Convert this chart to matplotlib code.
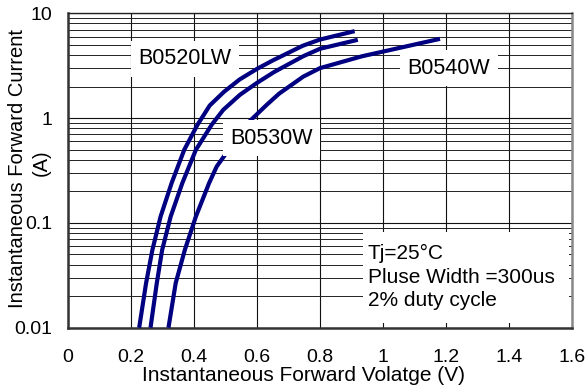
import numpy as np
import matplotlib
matplotlib.use('Agg')
import matplotlib.pyplot as plt
from matplotlib.patches import Rectangle

plt.rcParams['font.family'] = ['Liberation Sans', 'DejaVu Sans']

# forward voltage (V) / current (A)
v_0520 = [0.226, 0.248, 0.268, 0.294, 0.329, 0.369, 0.411, 0.450, 0.495, 0.545, 0.600, 0.650, 0.745, 0.800, 0.910]
i_0520 = [0.01, 0.0267, 0.0553, 0.115, 0.240, 0.498, 0.863, 1.32, 1.78, 2.34, 2.95, 3.55, 4.9, 5.62, 6.76]

v_0530 = [0.262, 0.282, 0.299, 0.326, 0.363, 0.406, 0.456, 0.493, 0.546, 0.599, 0.654, 0.747, 0.800, 0.920]
i_0530 = [0.01, 0.0267, 0.0553, 0.115, 0.240, 0.498, 0.863, 1.20, 1.67, 2.16, 2.75, 3.9, 4.59, 5.59]

v_0540 = [0.319, 0.342, 0.371, 0.406, 0.448, 0.472, 0.571, 0.631, 0.670, 0.747, 0.800, 0.933, 1.001, 1.181]
i_0540 = [0.01, 0.0267, 0.0553, 0.115, 0.240, 0.345, 0.90, 1.34, 1.71, 2.49, 3.0, 3.89, 4.32, 5.71]

x_ticks = [0, 0.2, 0.4, 0.6, 0.8, 1.0, 1.2, 1.4, 1.6]
x_labels = ['0', '0.2', '0.4', '0.6', '0.8', '1', '1.2', '1.4', '1.6']
y_ticks = [0.01, 0.1, 1, 10]
y_labels = ['0.01', '0.1', '1', '10']

fig = plt.figure(figsize=(5.88, 3.92), dpi=100)
ax = fig.add_axes([0.1156, 0.164, 0.8572, 0.802])

navy = '#000080'
ax.plot(v_0520, i_0520, color=navy, lw=3, solid_capstyle='butt', solid_joinstyle='round', zorder=3)
ax.plot(v_0530, i_0530, color=navy, lw=3, solid_capstyle='butt', solid_joinstyle='round', zorder=3)
ax.plot(v_0540, i_0540, color=navy, lw=3, solid_capstyle='butt', solid_joinstyle='round', zorder=3)

ax.set_yscale('log')
ax.set_xlim(0, 1.6)
ax.set_ylim(0.01, 10)
ax.set_xticks(x_ticks)
ax.set_xticklabels(x_labels)
ax.set_yticks(y_ticks)
ax.set_yticklabels(y_labels)
ax.yaxis.set_minor_locator(matplotlib.ticker.LogLocator(base=10, subs=np.arange(2, 10)))
ax.yaxis.set_minor_formatter(matplotlib.ticker.NullFormatter())
ax.tick_params(axis='both', which='both', length=0, labelsize=14)
ax.tick_params(axis='x', pad=15)
ax.tick_params(axis='y', pad=11)

ax.grid(True, which='major', color='#111111', lw=0.8)
ax.grid(True, which='minor', axis='y', color='#222222', lw=0.7)
ax.set_axisbelow(True)

for side in ['left', 'bottom']:
    ax.spines[side].set_linewidth(1.8)
    ax.spines[side].set_color('#333333')
ax.spines['right'].set_linewidth(1.8)
ax.spines['right'].set_color('#888888')
ax.spines['top'].set_linewidth(1.0)
ax.spines['top'].set_color('#222222')

ax.set_xlabel('Instantaneous Forward Volatge (V)', fontsize=15)
ax.xaxis.set_label_coords(0.468, -0.122)
ax.xaxis.label.set_va('top')

ax.set_ylabel('Instantaneous Forward Current', fontsize=14.5)
ax.yaxis.set_label_coords(-0.101, 0.505)
ax.yaxis.label.set_va('center')
ax.text(-0.0536, 0.524, '(A)', fontsize=14.5, rotation=90, ha='center', va='center',
        transform=ax.transAxes)

box = dict(boxstyle='square,pad=0.35', fc='white', ec='none')
ax.text(0.371, 3.68, 'B0520LW', fontsize=15.5, ha='center', va='center', bbox=box, zorder=5)
ax.text(0.646, 0.641, 'B0530W', fontsize=15.5, ha='center', va='center', bbox=box, zorder=5)
ax.text(1.2095, 2.99, 'B0540W', fontsize=15.5, ha='center', va='center', bbox=box, zorder=5)

# white panel behind the test conditions
ax.add_patch(Rectangle((0.585, 0.015), 0.409, 0.289, transform=ax.transAxes,
                       fc='white', ec='none', zorder=4))
ax.text(0.595, 0.16, 'Tj=25°C\nPluse Width =300us\n2% duty cycle', fontsize=15,
        ha='left', va='center', linespacing=1.3, transform=ax.transAxes, zorder=5)

fig.savefig('out.png', dpi=100)
